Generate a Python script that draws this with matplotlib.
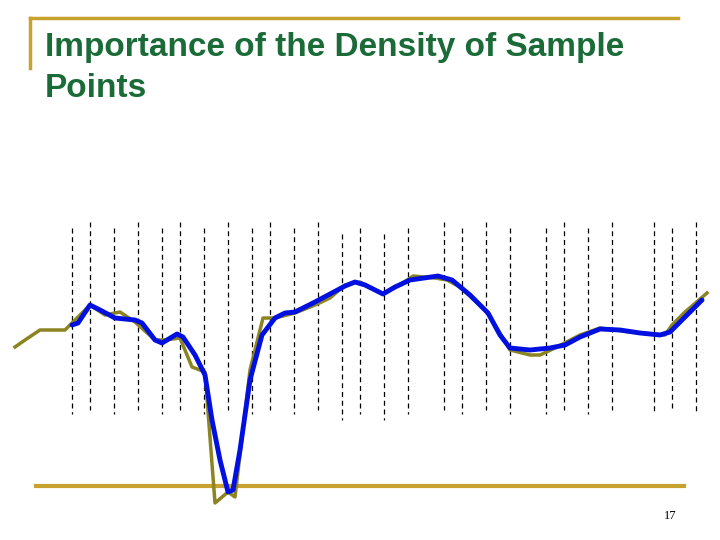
import matplotlib
matplotlib.use("Agg")
import matplotlib.pyplot as plt

# data in slide pixel coordinates
olive_x = [15,25,40,65,75,90,105,120,135,155,165,180,192,205,215,228,235,250,263,275,295,315,330,345,360,383,400,413,435,447,460,488,510,530,540,555,580,600,630,665,672,685,707]
olive_y = [347,340,330,330,320,305,315,312,322,340,340,338,367,372,503,492,497,370,318,318,313,305,298,285,282,294,285,276,278,280,287,313,350,355,355,348,335,328,332,335,325,312,293]
blue_x = [72,78,90,100,115,135,142,155,162,177,183,195,205,212,220,228,233,240,250,262,275,285,295,315,345,355,365,383,395,410,438,452,470,488,500,510,530,550,565,580,600,620,640,660,670,685,702]
blue_y = [325,323,305,310,318,320,323,340,343,334,337,355,375,420,460,492,490,450,380,335,318,313,312,302,286,282,285,294,287,280,276,280,295,313,335,348,350,348,345,337,329,330,333,335,332,317,300]
dash_x = [72,90,114,138,162,180,204,228,252,270,294,318,342,360,384,408,444,462,486,510,546,564,588,612,654,672,696]
dash_top = [228,222,228,222,228,222,228,222,228,222,228,222,234,228,234,228,222,228,222,228,228,222,228,222,222,228,222]
dash_bot = [414,410,414,410,414,410,414,410,414,410,414,410,420,414,420,414,410,414,410,414,414,410,414,410,414,410,414]

fig = plt.figure(figsize=(7.2, 5.4), dpi=100)
ax = fig.add_axes([0, 0, 1, 1])
ax.set_xlim(0, 720)
ax.set_ylim(540, 0)
ax.axis("off")

gold = "#C8A22E"
ax.plot([30, 678], [18, 18], color=gold, lw=2.5)
ax.plot([30, 30], [18, 68], color=gold, lw=2.5)
ax.plot([36, 684], [486, 486], color=gold, lw=3)

for x, t, b in zip(dash_x, dash_top, dash_bot):
    ax.plot([x, x], [t, b], color="black", lw=0.9, ls=(0, (4, 3)))

ax.plot(olive_x, olive_y, color="#8B8420", lw=2.5)
ax.plot(blue_x, blue_y, color="#0010E0", lw=3.5, solid_capstyle="round", solid_joinstyle="round")

ax.text(45, 68, "Importance of the Density of Sample\nPoints", color="#1A6B38",
        fontsize=24, fontweight="bold", family="Liberation Sans", va="center", ha="left",
        linespacing=1.4)
ax.text(670, 516, "17", fontsize=9, family="Liberation Serif", ha="center", va="center")

fig.savefig("out.png", dpi=100)
